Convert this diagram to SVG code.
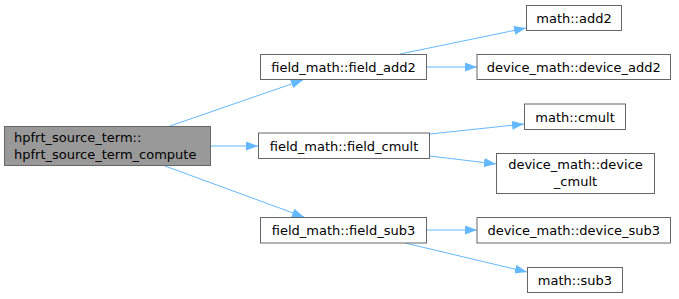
<svg xmlns="http://www.w3.org/2000/svg" width="679" height="299" viewBox="0 0 679 299">
<defs>
<style>
.n rect{fill:#fff;stroke:#666;stroke-width:1}
.n.main rect{fill:#999}
.n text{font-family:"DejaVu Sans",sans-serif;font-size:13px;fill:#000;text-anchor:middle}
.e path{fill:none;stroke:#63b8ff;stroke-width:1}
</style>
<marker id="ah" viewBox="0 0 12 9" refX="12" refY="4.5" markerWidth="12" markerHeight="9" markerUnits="userSpaceOnUse" orient="auto">
<path d="M0,0 L12,4.5 L0,9 Z" fill="#63b8ff"/>
</marker>
</defs>
<g id="edges" class="e">
<path d="M170,126 L303,80" marker-end="url(#ah)"/>
<path d="M211,146 L258,146" marker-end="url(#ah)"/>
<path d="M165,166 L304,217" marker-end="url(#ah)"/>
<path d="M400,54 L526,28" marker-end="url(#ah)"/>
<path d="M427,67 L477,67" marker-end="url(#ah)"/>
<path d="M430,134 L524,124" marker-end="url(#ah)"/>
<path d="M430,156 L496,164" marker-end="url(#ah)"/>
<path d="M427,230 L477,230" marker-end="url(#ah)"/>
<path d="M405,243 L527,272" marker-end="url(#ah)"/>
</g>
<g id="main" class="n main">
<rect x="4.5" y="126.5" width="206" height="39"/>
<text x="14" y="142" style="text-anchor:start">hpfrt_source_term::</text>
<text x="14" y="159" style="text-anchor:start">hpfrt_source_term_compute</text>
</g>
<g id="field_add2" class="n">
<rect x="260.5" y="54.5" width="166" height="25"/>
<text x="343.5" y="71.5">field_math::field_add2</text>
</g>
<g id="math_add2" class="n">
<rect x="526.5" y="5.5" width="95" height="25"/>
<text x="574" y="22.5">math::add2</text>
</g>
<g id="device_add2" class="n">
<rect x="477" y="54.5" width="193.5" height="25"/>
<text x="573.75" y="71.5">device_math::device_add2</text>
</g>
<g id="field_cmult" class="n">
<rect x="258.5" y="133" width="171" height="25.5"/>
<text x="344" y="150.5">field_math::field_cmult</text>
</g>
<g id="math_cmult" class="n">
<rect x="524.5" y="104" width="101" height="25.5"/>
<text x="575" y="121.5">math::cmult</text>
</g>
<g id="device_cmult" class="n">
<rect x="496.5" y="153.5" width="158" height="40"/>
<text x="575.5" y="169">device_math::device</text>
<text x="575.5" y="186">_cmult</text>
</g>
<g id="field_sub3" class="n">
<rect x="260.5" y="217.5" width="166" height="25.5"/>
<text x="343.5" y="234.5">field_math::field_sub3</text>
</g>
<g id="device_sub3" class="n">
<rect x="477" y="217.5" width="193.5" height="25.5"/>
<text x="573.75" y="234.5">device_math::device_sub3</text>
</g>
<g id="math_sub3" class="n">
<rect x="527.5" y="267.5" width="95" height="25"/>
<text x="575" y="284.5">math::sub3</text>
</g>
</svg>
